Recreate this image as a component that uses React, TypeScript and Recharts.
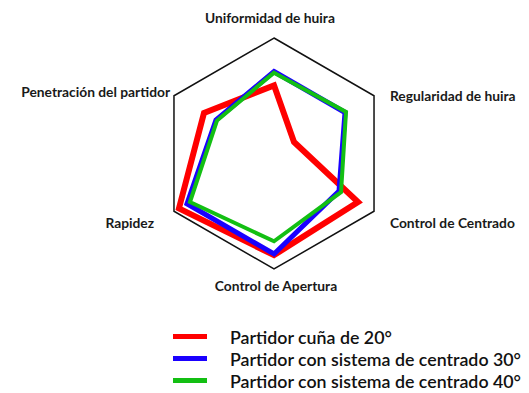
import React from "react";
import { RadarChart, Radar, PolarGrid, PolarAngleAxis, PolarRadiusAxis, Legend } from "recharts";

const categories = [
  "Uniformidad de huira",
  "Regularidad de huira",
  "Control de Centrado",
  "Control de Apertura",
  "Rapidez",
  "Penetración del partidor",
];
const seriesNames = [
  "Partidor cuña de 20°",
  "Partidor con sistema de centrado 30°",
  "Partidor con sistema de centrado 40°",
];
const cuna20 = [5.9, 2.0, 8.4, 8.8, 9.5, 7.0];
const centrado30 = [7.1, 7.1, 6.5, 8.7, 8.7, 5.8];
const centrado40 = [7.0, 7.2, 6.7, 7.6, 8.4, 5.7];
const colors = ["#ff0000", "#1a00ff", "#13bf13"];
const widths = [6, 5, 4];

const data = categories.map((c, i) => ({
  cat: c,
  s0: cuna20[i],
  s1: centrado30[i],
  s2: centrado40[i],
}));

const tickOffsets: Record<number, [number, number]> = {
  0: [-4, -13],
  1: [9, 4],
  2: [9, 7],
  3: [2, 8],
  4: [-13, 7],
  5: [3, 0],
};

const AngleTick = (props: any) => {
  const { x, y, payload, textAnchor, index } = props;
  const off = tickOffsets[index] || [0, 0];
  return (
    <text
      x={x + off[0]}
      y={y + off[1]}
      textAnchor={textAnchor}
      dominantBaseline="central"
      fontFamily="Lato, 'Open Sans', sans-serif"
      fontWeight="bold"
      fontSize={13.8}
      fill="#1a1a1a"
    >
      {payload.value}
    </text>
  );
};

const LegendContent = () => (
  <div style={{ fontFamily: "Lato, 'Open Sans', sans-serif", fontSize: 17.8, color: "#111" }}>
    {seriesNames.map((n, i) => (
      <div key={n} style={{ display: "flex", alignItems: "center", height: 21.8 }}>
        <div style={{ width: 34, height: 5, background: colors[i], marginRight: 23 }} />
        <span style={{ fontWeight: 600, whiteSpace: "nowrap" }}>{n}</span>
      </div>
    ))}
  </div>
);

export default function App() {
  return (
    <RadarChart
      width={521}
      height={385}
      data={data}
      cx={266}
      cy={145.5}
      outerRadius={115.5}
      startAngle={90}
      endAngle={-270}
      margin={{ top: 0, right: 0, bottom: 0, left: 0 }}
    >
      <PolarGrid gridType="polygon" radialLines={false} polarRadius={[115.5]} stroke="#111" strokeWidth={1.5} />
      <PolarAngleAxis dataKey="cat" tick={<AngleTick />} tickLine={false} axisLine={false} />
      <PolarRadiusAxis domain={[0, 10]} tick={false} axisLine={false} tickCount={2} />
      {["s0", "s1", "s2"].map((k, i) => (
        <Radar
          key={k}
          name={seriesNames[i]}
          dataKey={k}
          stroke={colors[i]}
          strokeWidth={widths[i]}
          fill="none"
          fillOpacity={0}
          strokeLinejoin="miter"
          isAnimationActive={false}
          dot={false}
        />
      ))}
      <Legend
        content={<LegendContent />}
        layout="vertical"
        wrapperStyle={{ position: "absolute", left: 165, top: 318, width: 360 }}
      />
    </RadarChart>
  );
}
